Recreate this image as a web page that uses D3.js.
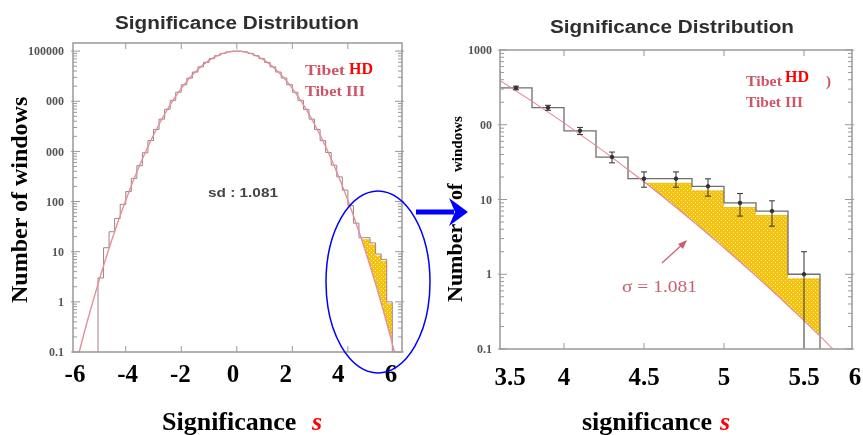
<!DOCTYPE html>
<html>
<head>
<meta charset="utf-8">
<script src="https://cdn.jsdelivr.net/npm/d3@7"></script>
<style>
  body { margin: 0; background: #fff; }
  svg { display: block; }
</style>
</head>
<body>
<div id="chart"></div>
<script>

// histogram of window significances, bins of width 0.2
var binCenters = [-4.9,-4.7,-4.5,-4.3,-4.1,-3.9,-3.7,-3.5,-3.3,-3.1,-2.9,-2.7,-2.5,-2.3,-2.1,-1.9,-1.7,-1.5,-1.3,-1.1,
  -0.9,-0.7,-0.5,-0.3,-0.1,0.1,0.3,0.5,0.7,0.9,1.1,1.3,1.5,1.7,1.9,2.1,2.3,2.5,2.7,2.9,
  3.1,3.3,3.5,3.7,3.9,4.1,4.3,4.5,4.7,4.9,5.1,5.3,5.5];
var binWidth = 0.2;
var counts = [3,12,25,46,88,158,290,520,940,1650,2740,4400,6900,10400,15150,21300,29000,38200,48500,59600,
  70700,81100,89800,96200,99600,99500,96200,89900,81000,70700,59600,48500,38200,29000,21400,15100,10400,6900,4400,2730,
  1640,950,530,311,169,83,37,19,19,15,9,7,1];
// error bars shown in the zoomed panel (bins 3.7 ... 5.5)
var zoomCenters = [3.7,3.9,4.1,4.3,4.5,4.7,4.9,5.1,5.3,5.5];
var zoomErrors = [17.6,13,9.1,6.1,4.4,4.4,3.9,3,2.6,1];
// bins with an excess above the fit (shaded)
var excessCenters = [4.5,4.7,4.9,5.1,5.3,5.5];

// gaussian fit, sd 1.081, read at these points
var fitS = [-6,-5.5,-5,-4.5,-4,-3.5,-3,-2.5,-2,-1.5,-1,-0.5,0,0.5,1,1.5,2,2.5,3,3.5,4,4.5,5,5.5,6];
var fitN = [0.0204,0.239,2.26,17.3,106,529,2126,6897,18059,38187,65190,89855,100000,89855,65190,38187,18059,6897,2126,529,106,17.3,2.26,0.239,0.0204];

var leftYTicks = [0.1,1,10,100,1000,10000,100000];
var leftYText = ["0.1","1","10","100","000","000","100000"];
var rightYTicks = [0.1,1,10,100,1000];
var rightYText = ["0.1","1","10","00","1000"];
var leftXTicks = [-4,-2,0,2,4];
var rightXTicks = [4,4.5,5,5.5];
var leftXLabels = [-6,-4,-2,0,2,4,6];
var rightXLabels = [3.5,4,4.5,5,5.5,6];

var svg = d3.select("#chart").append("svg").attr("width", 863).attr("height", 435);
svg.append("rect").attr("width", 863).attr("height", 435).attr("fill", "#fff");
var defs = svg.append("defs");

defs.append("filter").attr("id", "soft").attr("x", "-5%").attr("y", "-5%").attr("width", "110%").attr("height", "110%")
  .append("feGaussianBlur").attr("stdDeviation", 0.55);

var pat = defs.append("pattern").attr("id", "speckle")
  .attr("patternUnits", "userSpaceOnUse").attr("width", 4).attr("height", 4);
pat.append("rect").attr("width", 4).attr("height", 4).attr("fill", "#f4c20f");
pat.append("rect").attr("x", 1).attr("y", 0).attr("width", 1).attr("height", 1).attr("fill", "#fff2a8");
pat.append("rect").attr("x", 3).attr("y", 2).attr("width", 1).attr("height", 1).attr("fill", "#fff6c8");

var scan = svg.append("g").attr("filter", "url(#soft)");

function panel(cfg) {
  var x = d3.scaleLinear().domain(cfg.xDomain).range([cfg.left, cfg.right]);
  var y = d3.scaleLog().domain(cfg.yDomain).range([cfg.bottom, cfg.top]);
  var yMin = cfg.yDomain[0];
  var g = scan.append("g");

  defs.append("clipPath").attr("id", cfg.id + "-frame").append("rect")
    .attr("x", cfg.left).attr("y", cfg.top)
    .attr("width", cfg.right - cfg.left).attr("height", cfg.bottom - cfg.top);

  var fitPts = fitS.map(function(s, i){ return [s, fitN[i]]; });
  var fitPath = d3.line()
    .x(function(d){ return x(d[0]); })
    .y(function(d){ return y(d[1]); })
    .curve(d3.curveNatural)(fitPts);

  // region above the fit, used to cut the shaded excess
  defs.append("clipPath").attr("id", cfg.id + "-above").append("path")
    .attr("d", fitPath + "L" + x(fitS[fitS.length - 1]) + "," + cfg.top + "L" + x(fitS[0]) + "," + cfg.top + "Z");

  var plot = g.append("g").attr("clip-path", "url(#" + cfg.id + "-frame)");

  var ex = excessCenters.map(function(c){ return [c - binWidth / 2, counts[binCenters.indexOf(c)]]; });
  ex.push([excessCenters[excessCenters.length - 1] + binWidth / 2, ex[ex.length - 1][1]]);
  plot.append("g").attr("clip-path", "url(#" + cfg.id + "-above)")
    .append("path")
    .attr("d", d3.area()
      .x(function(d){ return x(d[0]); })
      .y0(cfg.bottom)
      .y1(function(d){ return y(d[1]) + cfg.fillInset; })
      .curve(d3.curveStepAfter)(ex))
    .attr("fill", "url(#speckle)");

  var steps = [[binCenters[0] - binWidth / 2, yMin]];
  binCenters.forEach(function(c, i){ steps.push([c - binWidth / 2, counts[i]]); });
  steps.push([binCenters[binCenters.length - 1] + binWidth / 2, yMin]);
  var histPath = d3.line()
    .x(function(d){ return x(d[0]); })
    .y(function(d){ return y(d[1]); })
    .curve(d3.curveStepAfter)(steps);

  plot.append("path").attr("d", histPath).attr("fill", "none")
    .attr("stroke", cfg.histColor).attr("stroke-width", cfg.histWidth);
  plot.append("path").attr("d", fitPath).attr("fill", "none")
    .attr("stroke", cfg.fitColor).attr("stroke-width", cfg.fitWidth);

  if (cfg.errors) {
    var eb = plot.append("g").attr("stroke", "#333").attr("stroke-width", 1);
    zoomCenters.forEach(function(c, i){
      var n = counts[binCenters.indexOf(c)];
      var hi = n + zoomErrors[i];
      var lo = Math.max(n - zoomErrors[i], yMin);
      eb.append("line").attr("x1", x(c)).attr("x2", x(c)).attr("y1", y(hi)).attr("y2", y(lo));
      eb.append("line").attr("x1", x(c) - 3).attr("x2", x(c) + 3).attr("y1", y(hi)).attr("y2", y(hi));
      if (lo > yMin) {
        eb.append("line").attr("x1", x(c) - 3).attr("x2", x(c) + 3).attr("y1", y(lo)).attr("y2", y(lo));
      }
      eb.append("circle").attr("cx", x(c)).attr("cy", y(n)).attr("r", 1.8).attr("fill", "#333");
    });
  }

  // frame and ticks
  var ax = g.append("g").attr("stroke", "#999");
  ax.append("rect")
    .attr("x", cfg.left).attr("y", cfg.top)
    .attr("width", cfg.right - cfg.left).attr("height", cfg.bottom - cfg.top)
    .attr("fill", "none").attr("stroke-width", 1.5);

  var minor = y.ticks().filter(function(t){
    var l = Math.log10(t);
    return Math.abs(l - Math.round(l)) > 1e-6;
  });
  [cfg.left, cfg.right].forEach(function(edge, k){
    var dir = k === 0 ? 1 : -1;
    ax.selectAll(null).data(cfg.yTicks).join("line")
      .attr("x1", edge - dir * 2).attr("x2", edge + dir * 7)
      .attr("y1", function(d){ return y(d); }).attr("y2", function(d){ return y(d); });
    ax.selectAll(null).data(minor).join("line")
      .attr("x1", edge).attr("x2", edge + dir * 4)
      .attr("y1", function(d){ return y(d); }).attr("y2", function(d){ return y(d); });
  });
  [cfg.top, cfg.bottom].forEach(function(edge, k){
    var dir = k === 0 ? 1 : -1;
    ax.selectAll(null).data(cfg.xTicks).join("line")
      .attr("x1", function(d){ return x(d); }).attr("x2", function(d){ return x(d); })
      .attr("y1", edge).attr("y2", edge + dir * 6);
  });

  g.append("g")
    .attr("font-family", "'Liberation Serif', serif").attr("font-weight", "bold")
    .attr("font-size", 12).attr("fill", "#555").attr("text-anchor", "end")
    .selectAll("text").data(cfg.yTicks).join("text")
    .attr("x", cfg.labelX).attr("y", function(d){ return y(d); }).attr("dy", "0.35em")
    .text(function(d, i){ return cfg.yText[i]; });

  g.append("text")
    .attr("x", cfg.titleX).attr("y", cfg.titleY).attr("text-anchor", "middle")
    .attr("font-family", "'Liberation Sans', Arial, sans-serif").attr("font-weight", "bold")
    .attr("font-size", 18).attr("fill", "#2e2e2e")
    .attr("textLength", 244).attr("lengthAdjust", "spacingAndGlyphs")
    .text("Significance Distribution");

  return { x: x, y: y };
}

var L = panel({
  id: "left", left: 73, right: 402, top: 43, bottom: 352,
  xDomain: [-5.9, 5.95], yDomain: [0.1, 145000],
  yTicks: leftYTicks, yText: leftYText, xTicks: leftXTicks, labelX: 64,
  titleX: 237, titleY: 29,
  histColor: "#a08088", histWidth: 1, fitColor: "#e3909b", fitWidth: 1.4, fillInset: 1.5
});

var R = panel({
  id: "right", left: 500, right: 852, top: 50, bottom: 349,
  xDomain: [3.6, 5.8], yDomain: [0.1, 1000],
  yTicks: rightYTicks, yText: rightYText, xTicks: rightXTicks, labelX: 492,
  titleX: 672, titleY: 33,
  histColor: "#6e6e6e", histWidth: 1.3, fitColor: "#e48a97", fitWidth: 1.1, fillInset: 4,
  errors: true
});

// in-plot annotations from the original figure
var paleRed = "#cf5566";
var legendFont = "'Liberation Serif', serif";
function legend(xs, yTop, yBottom, w1, w2, box, closing) {
  scan.append("text").attr("x", xs).attr("y", yTop)
    .attr("font-family", legendFont).attr("font-weight", "bold").attr("font-size", 15)
    .attr("textLength", w1).attr("lengthAdjust", "spacingAndGlyphs")
    .attr("fill", paleRed).text("Tibet");
  scan.append("text").attr("x", xs).attr("y", yBottom)
    .attr("font-family", legendFont).attr("font-weight", "bold").attr("font-size", 15)
    .attr("textLength", w2).attr("lengthAdjust", "spacingAndGlyphs")
    .attr("fill", paleRed).text("Tibet III");
  if (closing) {
    scan.append("text").attr("x", box[0] + box[2] - 2).attr("y", yTop)
      .attr("font-family", legendFont).attr("font-weight", "bold").attr("font-size", 15)
      .attr("fill", paleRed).text(")");
  }
  svg.append("rect").attr("x", box[0]).attr("y", box[1]).attr("width", box[2] - (closing ? 2 : 0)).attr("height", box[3]).attr("fill", "#fff");
  svg.append("text").attr("x", box[0] + 2).attr("y", box[4])
    .attr("font-family", legendFont).attr("font-weight", "bold").attr("font-size", 16)
    .attr("fill", "#ff0000").text("HD");
}
legend(305, 75, 96, 40, 60, [347, 52, 40, 26, 74], false);
legend(746, 86, 107, 36, 57, [783, 66, 45, 22, 82], true);

scan.append("text").attr("x", 243).attr("y", 197).attr("text-anchor", "middle")
  .attr("font-family", "'Liberation Sans', Arial, sans-serif").attr("font-weight", "bold")
  .attr("font-size", 13).attr("fill", "#444")
  .attr("textLength", 70).attr("lengthAdjust", "spacingAndGlyphs")
  .text("sd : 1.081");

scan.append("text").attr("x", 622).attr("y", 292)
  .attr("font-family", legendFont).attr("font-size", 16).attr("fill", "#c9606f")
  .attr("textLength", 75).attr("lengthAdjust", "spacingAndGlyphs")
  .text("σ = 1.081");
scan.append("line").attr("x1", 662).attr("y1", 263).attr("x2", 685).attr("y2", 242)
  .attr("stroke", "#c9606f").attr("stroke-width", 1.2);
scan.append("path").attr("d", "M687,240 L678,244 L683,249 Z").attr("fill", "#c9606f");

// presentation overlay: big axis labels, ellipse and arrow
var serif = "'Liberation Serif', 'Times New Roman', serif";

var bigLeft = d3.scaleLinear().domain([-6, 6]).range([75, 391]);
svg.append("g").attr("font-family", serif).attr("font-weight", "bold").attr("font-size", 25)
  .attr("text-anchor", "middle").attr("fill", "#000")
  .selectAll("text").data(leftXLabels).join("text")
  .attr("x", function(d){ return bigLeft(d); }).attr("y", 382)
  .text(function(d){ return d < 0 ? "-" + Math.abs(d) : d; });

svg.append("g").attr("font-family", serif).attr("font-weight", "bold").attr("font-size", 25)
  .attr("text-anchor", "middle").attr("fill", "#000")
  .selectAll("text").data(rightXLabels).join("text")
  .attr("x", function(d){ return Math.max(510, Math.min(855, R.x(d))); }).attr("y", 385)
  .text(function(d){ return d; });

var xt = svg.append("text").attr("x", 162).attr("y", 430)
  .attr("font-family", serif).attr("font-weight", "bold").attr("font-size", 26);
xt.append("tspan").text("Significance");
xt.append("tspan").attr("x", 312).attr("fill", "#ff0000").attr("font-style", "italic").text("s");

var xt2 = svg.append("text").attr("x", 582).attr("y", 430)
  .attr("font-family", serif).attr("font-weight", "bold").attr("font-size", 26);
xt2.append("tspan").text("significance");
xt2.append("tspan").attr("x", 720).attr("fill", "#ff0000").attr("font-style", "italic").text("s");

svg.append("text").attr("transform", "translate(27,303) rotate(-90)")
  .attr("font-family", serif).attr("font-weight", "bold").attr("font-size", 24)
  .text("Number of windows");

svg.append("text").attr("transform", "translate(462,302) rotate(-90)")
  .attr("font-family", serif).attr("font-weight", "bold").attr("font-size", 22)
  .text("Number");
svg.append("text").attr("transform", "translate(462,200) rotate(-90)")
  .attr("font-family", serif).attr("font-weight", "bold").attr("font-size", 20)
  .text("of");
svg.append("text").attr("transform", "translate(462,172) rotate(-90)")
  .attr("font-family", serif).attr("font-weight", "bold").attr("font-size", 15)
  .text("windows");

svg.append("ellipse").attr("cx", 378).attr("cy", 282).attr("rx", 52).attr("ry", 91)
  .attr("fill", "none").attr("stroke", "#0000ff").attr("stroke-width", 1.5);

svg.append("rect").attr("x", 416).attr("y", 209.5).attr("width", 38).attr("height", 5).attr("fill", "#0000ff");
svg.append("path").attr("d", "M468,212 L449,198 L455,212 L449,226 Z").attr("fill", "#0000ff");

</script>
</body>
</html>
